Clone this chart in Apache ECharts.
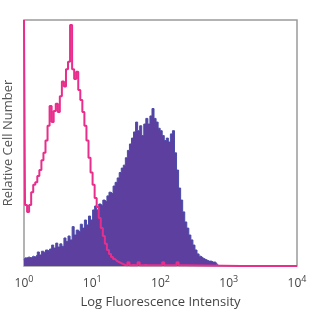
<!DOCTYPE html>
<html>
<head>
<meta charset="utf-8">
<script src="https://cdn.jsdelivr.net/npm/echarts@6/dist/echarts.min.js"></script>
<style>html,body{margin:0;padding:0;background:#fff}#c{width:312px;height:312px}</style>
</head>
<body>
<div id="c"></div>
<script>
// Histogram bins: log10 decades, bin width 0.03 starting at 10^0
const BIN_WIDTH = 0.03;
const xTicks = [0, 1, 2, 3, 4];
// Isotype control (pink), relative counts per bin
const pinkCounts = [100, 24.8, 22, 24.8, 30, 33, 34, 36.6, 39, 43, 46, 51, 57, 65, 58.5, 63, 66, 62.6, 69, 75,
  73, 80, 83, 98, 80, 76, 79, 71.5, 67.5, 62.6, 57, 51, 44, 38, 33, 27.6, 24, 19.5, 15.4, 12.2,
  9, 6.5, 4.9, 3.7, 2.8, 2, 1.6, 1.2, 0.8, 0.4, 0.3, 1.5, 0.3, 0.4, 0.3, 0.3, 1.5, 0.3, 0.3, 0.4,
  0.3, 0.3, 0.3, 0.3, 0.3, 0.3, 0.3, 0.3, 1.5, 0.3, 0.3, 0.3, 0.3, 0.3, 0.3, 1.5, 0.3, 0.3, 0.3, 0];
// Stained sample (purple), relative counts per bin
const purpleCounts = [2.4, 3.3, 3.7, 3.3, 4, 3.7, 4.5, 5.7, 4.5, 6, 5.3, 6.5, 6, 6.9, 8.5, 7.3, 9.3, 7.7, 9, 8,
  11.4, 10, 12.2, 10.6, 16, 12.6, 14.6, 13.8, 17, 15.4, 18.7, 16.7, 20.3, 18.7, 22.8, 24.4, 22.8, 25.2, 24.4, 26.8,
  26, 28.5, 30, 29.3, 32.5, 34, 35.8, 38, 39.8, 41, 44, 47, 49.6, 52, 54.5, 58.5, 55, 57, 53, 57.7,
  60, 57.7, 61, 64, 60, 58.5, 56, 55, 53, 51, 52, 50.4, 53.7, 55, 46, 39, 31.7, 26.8, 22, 17.9,
  15.4, 12.6, 10.6, 8.5, 6.5, 4.9, 4, 3.3, 2.8, 2.4, 2, 2, 1.6, 1.6, 0.8, 0];

const toPairs = arr => arr.map((v, i) => [i * BIN_WIDTH, v]);
const pinkData = toPairs(pinkCounts).concat([[4, 0]]);
const purpleData = toPairs(purpleCounts);

const chart = echarts.init(document.getElementById('c'), null, {renderer: 'canvas'});
chart.setOption({
  animation: false,
  grid: {left: 24, right: 15, top: 20, bottom: 46, show: true, borderColor: '#9a9a9a', borderWidth: 1.5,
         outerBoundsMode: 'none', containLabel: false},
  xAxis: {
    type: 'value', min: 0, max: 4, interval: 1,
    axisLine: {show: false}, axisTick: {show: false}, splitLine: {show: false},
    axisLabel: {
      margin: 8,
      formatter: v => '{b|10}{s|' + v + '}',
      rich: {
        b: {fontFamily: 'Open Sans', fontSize: 12, color: '#444', padding: [4, 0, 0, 0]},
        s: {fontFamily: 'Open Sans', fontSize: 9, color: '#444', padding: [0, 0, 5, 0]}
      }
    },
    name: 'Log Fluorescence Intensity', nameLocation: 'middle', nameGap: 30,
    nameTextStyle: {fontFamily: 'Open Sans', fontSize: 13, color: '#444'}
  },
  yAxis: {
    type: 'value', min: 0, max: 100,
    axisLine: {show: false}, axisTick: {show: false}, splitLine: {show: false}, axisLabel: {show: false},
    name: 'Relative Cell Number', nameLocation: 'middle', nameGap: 9,
    nameTextStyle: {fontFamily: 'Open Sans', fontSize: 13, color: '#555'}
  },
  series: [
    {
      type: 'line', step: 'middle', data: purpleData, symbol: 'none', z: 2,
      lineStyle: {color: '#4a4aaa', width: 1},
      areaStyle: {color: '#5c3f9f', opacity: 1}
    },
    {
      type: 'line', step: 'middle', data: pinkData, symbol: 'none', z: 3,
      lineStyle: {color: '#e82e8c', width: 2}
    }
  ]
});
</script>
</body>
</html>
